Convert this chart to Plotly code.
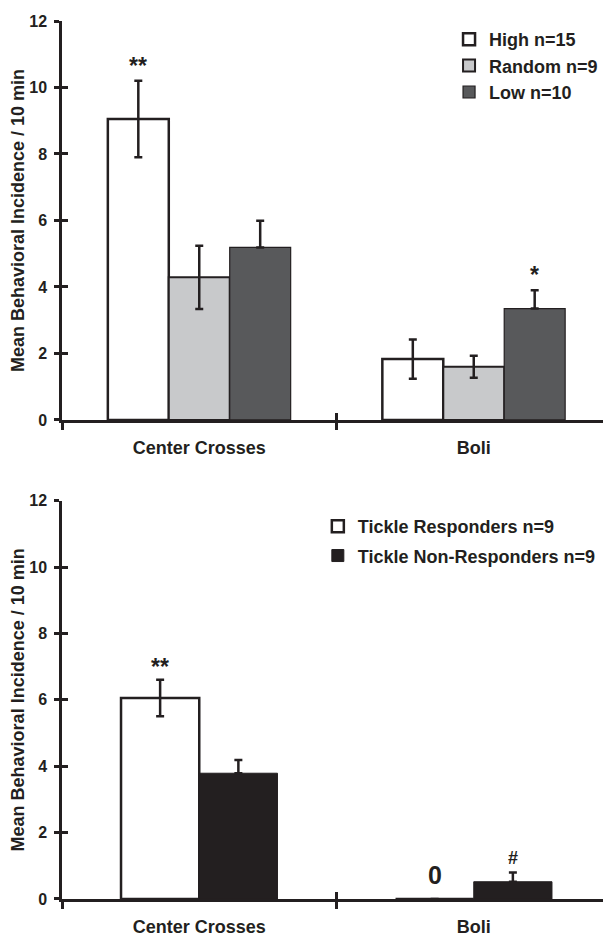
import plotly.graph_objects as go

# ---------------- data ----------------
categories = ["Center Crosses", "Boli"]

# top panel
high_label = "High n=15"
random_label = "Random n=9"
low_label = "Low n=10"
high_mean = [9.05, 1.83]
high_sem = [1.15, 0.59]
random_mean = [4.29, 1.60]
random_sem = [0.95, 0.33]
low_mean = [5.19, 3.35]
low_sem = [0.80, 0.55]

# bottom panel
resp_label = "Tickle Responders n=9"
nonresp_label = "Tickle Non-Responders n=9"
resp_mean = [6.06, 0.0]
resp_sem = [0.55, 0.0]
nonresp_mean = [3.79, 0.52]
nonresp_sem = [0.40, 0.28]

y_ticks = [0, 2, 4, 6, 8, 10, 12]
y_title = "Mean Behavioral Incidence / 10 min"

# ---------------- style ----------------
DARK = "#231f20"
FONT = "Liberation Sans, Arial, sans-serif"
# page body has an 8px margin, so the figure is sized/offset to compensate
W, H = 603, 929
ML, MR, MT, MB = 54, 0, 13, 38
top_dom = [0.5456, 1.0]
bot_dom = [0.0, 0.4536]


def err(vals, minus=None, visible=True):
    d = dict(type="data", array=vals, color=DARK, thickness=2.5, width=4, visible=visible)
    if minus is not None:
        d["arrayminus"] = minus
        d["symmetric"] = False
    return d


fig = go.Figure()

# top panel bars
wt = 0.222
fig.add_trace(go.Bar(x=categories, y=high_mean, name=high_label, width=wt, offset=-1.5 * wt,
                     marker=dict(color="white", line=dict(color=DARK, width=2.5)),
                     error_y=err(high_sem), xaxis="x", yaxis="y", legend="legend",
                     legendgroup="a"))
fig.add_trace(go.Bar(x=categories, y=random_mean, name=random_label, width=wt, offset=-0.5 * wt,
                     marker=dict(color="#c8c9cb", line=dict(color=DARK, width=2)),
                     error_y=err(random_sem), xaxis="x", yaxis="y", legend="legend",
                     legendgroup="b"))
fig.add_trace(go.Bar(x=categories, y=low_mean, name=low_label, width=wt, offset=0.5 * wt,
                     marker=dict(color="#58595b", line=dict(color=DARK, width=1.2)),
                     error_y=err(low_sem, [0 for _ in low_sem]), xaxis="x", yaxis="y",
                     legend="legend", legendgroup="c"))

# bottom panel bars
wb = 0.285
fig.add_trace(go.Bar(x=categories, y=resp_mean, name=resp_label, width=wb, offset=-wb,
                     marker=dict(color="white", line=dict(color=DARK, width=2.5)),
                     error_y=err(resp_sem), xaxis="x2", yaxis="y2", legend="legend2",
                     legendgroup="d"))
fig.add_trace(go.Bar(x=categories, y=nonresp_mean, name=nonresp_label, width=wb, offset=0,
                     marker=dict(color=DARK, line=dict(color=DARK, width=1)),
                     error_y=err(nonresp_sem, [0 for _ in nonresp_sem]), xaxis="x2", yaxis="y2",
                     legend="legend2", legendgroup="e"))

# invisible traces to create overlay axes (inside half of crossing ticks)
for xa, ya in (("x3", "y3"), ("x4", "y4")):
    fig.add_trace(go.Scatter(x=categories, y=[0, 0], mode="markers", marker=dict(opacity=0),
                             hoverinfo="skip", showlegend=False, xaxis=xa, yaxis=ya))

tickfont = dict(family=FONT, size=16, color=DARK, weight="bold")
catfont = dict(family=FONT, size=18, color=DARK, weight="bold")


def xmain(anchor):
    return dict(type="category", categoryorder="array", categoryarray=categories,
                range=[-0.5, 1.5], tickson="boundaries", ticks="outside", ticklen=7,
                tickwidth=2.5, tickcolor=DARK, showline=True, linewidth=2.5, linecolor=DARK,
                showgrid=False, zeroline=False, tickfont=catfont, anchor=anchor,
                domain=[0, 1], ticklabelstandoff=10, fixedrange=True)


def ymain(anchor, dom):
    return dict(range=[0, 12], tickvals=y_ticks, ticks="outside", ticklen=5, tickwidth=2.5,
                tickcolor=DARK, showline=True, linewidth=2.5, linecolor=DARK, showgrid=False,
                zeroline=False, tickfont=tickfont, anchor=anchor, domain=dom,
                ticklabelstandoff=4, automargin=False,
                title=dict(text=y_title, font=dict(family=FONT, size=18, color=DARK, weight="bold"),
                           standoff=2))


def xover(over, anchor):
    return dict(type="category", categoryorder="array", categoryarray=categories,
                range=[-0.5, 1.5], tickson="boundaries", ticks="inside", ticklen=7,
                tickwidth=2.5, tickcolor=DARK, showline=False, showgrid=False, zeroline=False,
                showticklabels=False, overlaying=over, anchor=anchor, fixedrange=True)


def yover(over, anchor):
    return dict(range=[0, 12], tickvals=y_ticks, ticks="inside", ticklen=6, tickwidth=2.5,
                tickcolor=DARK, showline=False, showgrid=False, zeroline=False,
                showticklabels=False, overlaying=over, anchor=anchor)


star_font = dict(family=FONT, size=23, color=DARK, weight="bold")
hash_font = dict(family=FONT, size=18, color=DARK, weight="bold")
annotations = [
    dict(x=-wt, y=high_mean[0] + high_sem[0], xref="x", yref="y", text="**", showarrow=False,
         yanchor="bottom", yshift=0, font=star_font),
    dict(x=1 + wt, y=low_mean[1] + low_sem[1], xref="x", yref="y", text="*", showarrow=False,
         yanchor="bottom", yshift=0, font=star_font),
    dict(x=-wb / 2, y=resp_mean[0] + resp_sem[0], xref="x2", yref="y2", text="**",
         showarrow=False, yanchor="bottom", yshift=-2, font=star_font),
    dict(x=1 + wb / 2, y=nonresp_mean[1] + nonresp_sem[1], xref="x2", yref="y2", text="#",
         showarrow=False, yanchor="bottom", yshift=2, font=hash_font),
    dict(x=1 - wb / 2, y=resp_mean[1], xref="x2", yref="y2", text="0", showarrow=False,
         yanchor="bottom", yshift=8, font=dict(family=FONT, size=25, color=DARK, weight="bold")),
]

legfont = dict(family=FONT, size=18, color=DARK, weight="bold")

fig.update_layout(
    width=W, height=H,
    margin=dict(l=ML, r=MR, t=MT, b=MB),
    paper_bgcolor="white", plot_bgcolor="white",
    barmode="overlay",
    showlegend=True,
    xaxis=xmain("y"), yaxis=ymain("x", top_dom),
    xaxis2=xmain("y2"), yaxis2=ymain("x2", bot_dom),
    xaxis3=xover("x", "y3"), yaxis3=yover("y", "x3"),
    xaxis4=xover("x2", "y4"), yaxis4=yover("y2", "x4"),
    legend=dict(x=0.705, y=1.0, xanchor="left", yanchor="top", font=legfont,
                bgcolor="rgba(0,0,0,0)", tracegroupgap=0),
    legend2=dict(x=0.466, y=0.4454, xanchor="left", yanchor="top", font=legfont,
                 bgcolor="rgba(0,0,0,0)", tracegroupgap=3),
    annotations=annotations,
    font=dict(family=FONT, color=DARK),
)

fig.write_html("out.html")
